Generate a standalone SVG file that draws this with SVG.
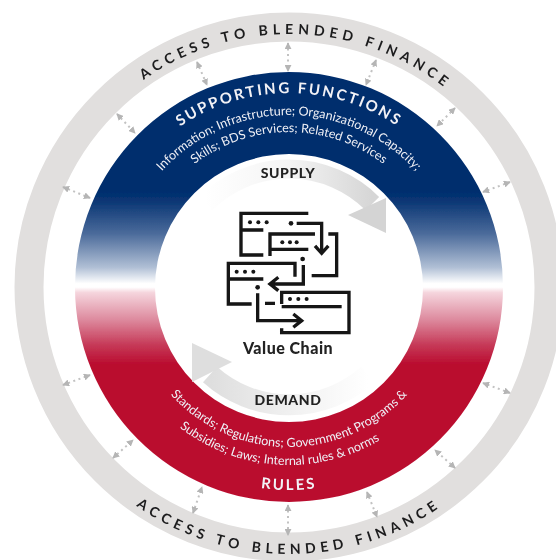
<svg xmlns="http://www.w3.org/2000/svg" xmlns:xlink="http://www.w3.org/1999/xlink" width="556" height="560" viewBox="0 0 556 560">
<style>
text{font-family:"Lato","Open Sans","Liberation Sans",sans-serif}
.acc{font-size:14px;font-weight:700;letter-spacing:4.8px;fill:#1d1d1f;text-anchor:middle}
.ttl{font-size:15px;font-weight:700;letter-spacing:2.3px;fill:#f2f2f6;text-anchor:middle}
.sub{font-size:12.5px;fill:#eef0f5;text-anchor:middle}
.lab{font-size:14px;font-weight:900;letter-spacing:.6px;fill:#222;text-anchor:middle}
.ln{fill:none;stroke:#c2c2c2;stroke-width:2;stroke-dasharray:2 3.5}
.icon{fill:none;stroke:#141414;stroke-width:10;stroke-linejoin:miter}
.dot{fill:#141414}
</style>
<defs>
<filter id="soft" filterUnits="userSpaceOnUse" x="0" y="0" width="556" height="560"><feGaussianBlur stdDeviation="0.4"/></filter>
<linearGradient id="band" gradientUnits="userSpaceOnUse" x1="0" y1="190" x2="0" y2="370">
<stop offset="0" stop-color="#002d6d"/><stop offset="0.06" stop-color="#0a3674"/>
<stop offset="0.24" stop-color="#4a6a9a"/><stop offset="0.43" stop-color="#b0bfd5"/><stop offset="0.52" stop-color="#ffffff"/><stop offset="0.54" stop-color="#ffffff"/>
<stop offset="0.57" stop-color="#f5d5dd"/><stop offset="0.72" stop-color="#dd8a9e"/><stop offset="0.86" stop-color="#c63a58"/><stop offset="0.97" stop-color="#ba0c2f"/><stop offset="1" stop-color="#ba0c2f"/>
</linearGradient>
<linearGradient id="up" gradientUnits="userSpaceOnUse" x1="205" y1="190" x2="372" y2="190">
<stop offset="0" stop-color="#fff"/><stop offset="0.5" stop-color="#f4f4f4"/><stop offset="1" stop-color="#d6d6d6"/>
</linearGradient>
<linearGradient id="down" gradientUnits="userSpaceOnUse" x1="368" y1="380" x2="210" y2="380">
<stop offset="0" stop-color="#fff"/><stop offset="0.45" stop-color="#f2f2f2"/><stop offset="1" stop-color="#dedede"/>
</linearGradient>
<marker id="tip" viewBox="0 0 8 8" refX="7" refY="4" markerWidth="3.5" markerHeight="3.5" orient="auto-start-reverse"><path d="M0 0L8 4L0 8Z" fill="#b5b5b5"/></marker>
<path id="pTopAcc" d="M36 287A253 253 0 0 1 542 287"/>
<path id="pBotAcc" d="M22 287A267 267 0 0 0 556 287"/>
<path id="pSup" d="M95 287A194 194 0 0 1 483 287"/>
<path id="pInfo" d="M117 287A172 172 0 0 1 461 287"/>
<path id="pSkills" d="M134 287A155 155 0 0 1 444 287"/>
<path id="pStd" d="M129 287A160 160 0 0 0 449 287"/>
<path id="pSub" d="M111 287A178 178 0 0 0 467 287"/>
<path id="pRules" d="M86 287A203 203 0 0 0 492 287"/>
</defs>
<rect width="556" height="560" fill="#fff"/>
<g filter="url(#soft)">
<g id="access-ring">
<circle cx="289" cy="287" r="260" fill="none" stroke="#e1dfde" stroke-width="29"/>
<text class="acc"><textPath xlink:href="#pTopAcc" href="#pTopAcc" startOffset="51%">ACCESS TO BLENDED FINANCE</textPath></text>
<text class="acc"><textPath xlink:href="#pBotAcc" href="#pBotAcc" startOffset="50%">ACCESS TO BLENDED FINANCE</textPath></text>
</g>
<g id="connectors">
<path class="ln" marker-start="url(#tip)" marker-end="url(#tip)" d="M288 43V71"/>
<path class="ln" marker-start="url(#tip)" marker-end="url(#tip)" d="M197 62L207 85"/>
<path class="ln" marker-start="url(#tip)" marker-end="url(#tip)" d="M376 60L366 85"/>
<path class="ln" marker-start="url(#tip)" marker-end="url(#tip)" d="M117 114L135 133"/>
<path class="ln" marker-start="url(#tip)" marker-end="url(#tip)" d="M455 108L437 126"/>
<path class="ln" marker-start="url(#tip)" marker-end="url(#tip)" d="M63 187L90 198"/>
<path class="ln" marker-start="url(#tip)" marker-end="url(#tip)" d="M510 182L483 192"/>
<path class="ln" marker-start="url(#tip)" marker-end="url(#tip)" d="M63 385L90 375"/>
<path class="ln" marker-start="url(#tip)" marker-end="url(#tip)" d="M510 393L483 383"/>
<path class="ln" marker-start="url(#tip)" marker-end="url(#tip)" d="M113 458L133 440"/>
<path class="ln" marker-start="url(#tip)" marker-end="url(#tip)" d="M455 468L435 450"/>
<path class="ln" marker-start="url(#tip)" marker-end="url(#tip)" d="M193 513L202 487"/>
<path class="ln" marker-start="url(#tip)" marker-end="url(#tip)" d="M288 505V535"/>
<path class="ln" marker-start="url(#tip)" marker-end="url(#tip)" d="M367 492L377 517"/>
</g>
<g id="band-ring">
<path fill="url(#band)" fill-rule="evenodd" d="M75 287A214 215 0 1 1 503 287A214 215 0 1 1 75 287ZM155 288A134 134 0 1 0 423 288A134 134 0 1 0 155 288Z"/>
</g>
<g id="supporting-functions">
<text class="ttl"><textPath xlink:href="#pSup" href="#pSup" startOffset="50%">SUPPORTING FUNCTIONS</textPath></text>
<text class="sub"><textPath xlink:href="#pInfo" href="#pInfo" startOffset="50%">Information; Infrastructure; Organizational Capacity;</textPath></text>
<text class="sub"><textPath xlink:href="#pSkills" href="#pSkills" startOffset="50%">Skills; BDS Services; Related Services</textPath></text>
</g>
<g id="rules">
<text class="sub"><textPath xlink:href="#pStd" href="#pStd" startOffset="50%">Standards; Regulations; Government Programs &amp;</textPath></text>
<text class="sub"><textPath xlink:href="#pSub" href="#pSub" startOffset="48%">Subsidies; Laws; Internal rules &amp; norms</textPath></text>
<text class="ttl"><textPath xlink:href="#pRules" href="#pRules" startOffset="50%">RULES</textPath></text>
</g>
<g id="cycle">
<path fill="none" stroke="url(#up)" stroke-width="19" d="M205.600 203.600A118 118 0 0 1 372.400 203.600"/>
<path fill="#d4d4d4" d="M386 198L386 233L348 215Z"/>
<path fill="none" stroke="url(#down)" stroke-width="21" d="M368 374.500A118 118 0 0 1 210 374.500"/>
<path fill="#dedede" d="M192 343L192 382L232 362Z"/>
</g>
<g id="supply"><text class="lab" x="288" y="178">SUPPLY</text></g>
<g id="demand"><text class="lab" x="288" y="405">DEMAND</text></g>
<g id="value-chain">
<g transform="translate(180 160) scale(0.3333)">
<path class="icon" d="M385 160H183V285H250M183 210H250M350 190H425V272M405 258L425 280L445 258"/>
<path class="icon" d="M405 222H270V288M270 268H385M445 222H470V347H395"/>
<path class="icon" d="M345 350V310H145V432H215M145 357H250M370 315V372H275M295 352L270 372L295 392"/>
<path class="icon" d="M233 400V482H360M340 462L365 482L340 502M255 430H285"/>
<path class="icon" d="M305 432V397H507V518H305V505M305 440H485"/>
<g class="dot">
<circle cx="210" cy="187" r="6"/><circle cx="235" cy="187" r="6"/><circle cx="260" cy="187" r="6"/><circle cx="333" cy="190" r="7"/>
<circle cx="307" cy="247" r="6"/><circle cx="330" cy="247" r="6"/><circle cx="350" cy="247" r="6"/><circle cx="368" cy="297" r="7"/>
<circle cx="170" cy="335" r="6"/><circle cx="195" cy="335" r="6"/><circle cx="220" cy="335" r="6"/><circle cx="233" cy="382" r="7"/>
<circle cx="330" cy="417" r="6"/><circle cx="355" cy="417" r="6"/><circle cx="380" cy="417" r="6"/>
</g>
</g>
<text x="288" y="354" font-size="16" font-weight="900" letter-spacing=".5" fill="#222" text-anchor="middle">Value Chain</text>
</g>
</g>
</svg>
